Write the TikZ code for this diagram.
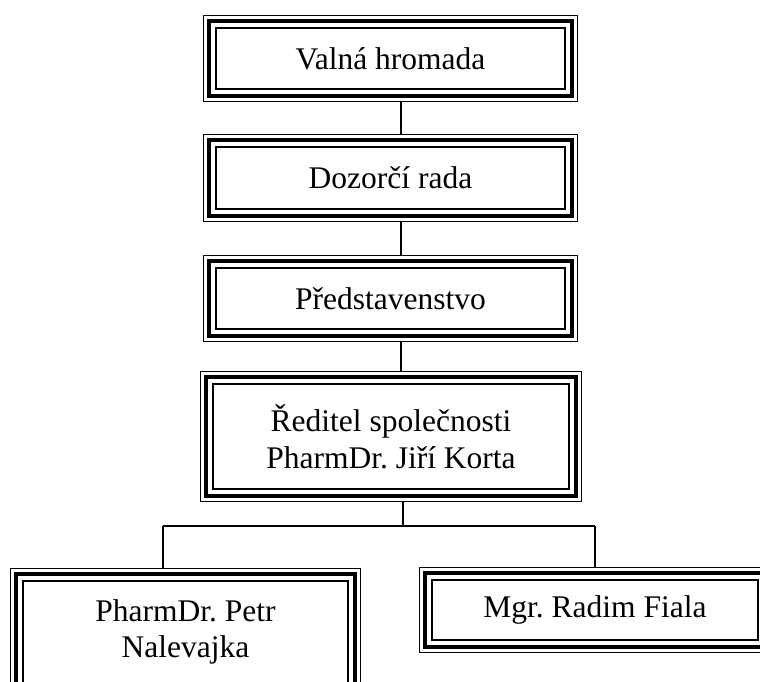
\documentclass[tikz,border=0pt]{standalone}
\usepackage{fontspec}
\setmainfont{Liberation Serif}
\frenchspacing
\newcommand\triframe[1]{%
  \draw[line width=1.2pt] ([shift={(0.6,0.6)}]#1.north west) rectangle ([shift={(-0.6,-0.6)}]#1.south east);
  \draw[line width=4.5pt] ([shift={(6.2,6.2)}]#1.north west) rectangle ([shift={(-6.2,-6.2)}]#1.south east);
  \draw[line width=1.7pt] ([shift={(13,13)}]#1.north west) rectangle ([shift={(-13,-13)}]#1.south east);
}
\tikzset{
  orgbox/.style={draw=none, inner sep=0pt, align=center,
    font=\fontsize{31.5}{36.5}\selectfont},
  conn/.style={line width=1.2pt}
}
\begin{document}
\begin{tikzpicture}[x=1pt,y=-1pt]
\clip (0,0) rectangle (760,682);
\fill[white] (0,0) rectangle (760,682);
\node[orgbox, minimum width=375pt, minimum height=87pt] (n1) at (390.5,58.5) {Valná hromada};
\node[orgbox, minimum width=375pt, minimum height=88pt] (n2) at (390.5,178) {Dozorčí rada};
\node[orgbox, minimum width=375pt, minimum height=87pt] (n3) at (390.5,298.5) {Představenstvo};
\node[orgbox, minimum width=382pt, minimum height=131pt] (n4) at (391,436.5) {Ředitel společnosti\\PharmDr. Jiří Korta};
\node[orgbox, minimum width=351pt, minimum height=128pt] (n5) at (185.5,632) {PharmDr. Petr\\Nalevajka};
\node[orgbox, minimum width=352pt, minimum height=86pt] (n6) at (595,610) {Mgr. Radim Fiala};
\triframe{n1}
\triframe{n2}
\triframe{n3}
\triframe{n4}
\triframe{n5}
\triframe{n6}
\coordinate (c1) at (401,0);
\coordinate (j) at (403,526);
\coordinate (jl) at (163,526);
\coordinate (jr) at (595,526);
\draw[conn] (n1.south -| c1) -- (n2.north -| c1);
\draw[conn] (n2.south -| c1) -- (n3.north -| c1);
\draw[conn] (n3.south -| c1) -- (n4.north -| c1);
\draw[conn] (n4.south -| j) -- (j);
\draw[conn] (jl) -- (jr);
\draw[conn] (jl) -- (n5.north -| jl);
\draw[conn] (jr) -- (n6.north -| jr);
\end{tikzpicture}
\end{document}
